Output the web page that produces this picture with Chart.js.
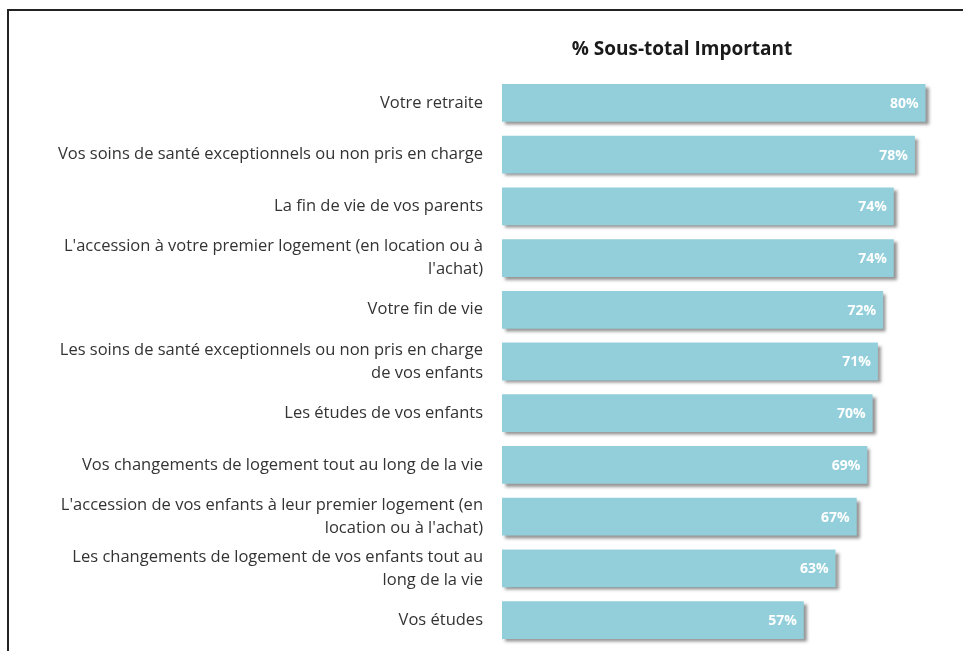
<!DOCTYPE html>
<html>
<head>
<meta charset="utf-8">
<script src="https://cdn.jsdelivr.net/npm/chart.js@4"></script>
<style>
  html, body { margin: 0; padding: 0; background: #fff; }
  #wrap { position: relative; width: 963px; height: 651px; overflow: hidden; }
  #frame { position: absolute; left: 7px; top: 9px; right: -10px; bottom: -10px;
           border-left: 2px solid #222; border-top: 2px solid #222; }
  canvas { position: absolute; left: 0; top: 0; }
</style>
</head>
<body>
<div id="wrap">
  <div id="frame"></div>
  <canvas id="chart" width="963" height="651"></canvas>
</div>
<script>
// ─── données ───────────────────────────────────────────
const categories = [
  "Votre retraite",
  "Vos soins de santé exceptionnels ou non pris en charge",
  "La fin de vie de vos parents",
  ["L'accession à votre premier logement (en location ou à", "l'achat)"],
  "Votre fin de vie",
  ["Les soins de santé exceptionnels ou non pris en charge", "de vos enfants"],
  "Les études de vos enfants",
  "Vos changements de logement tout au long de la vie",
  ["L'accession de vos enfants à leur premier logement (en", "location ou à l'achat)"],
  ["Les changements de logement de vos enfants tout au", "long de la vie"],
  "Vos études"
];
const values = [80, 78, 74, 74, 72, 71, 70, 69, 67, 63, 57];
const chartTitle = "% Sous-total Important";

const barColor = "#93cfda";
const labelFont = "'Open Sans', 'DejaVu Sans', sans-serif";

// ombre des barres
const shadowPlugin = {
  id: "shadow",
  beforeDatasetsDraw(chart) {
    const ctx = chart.ctx;
    ctx.save();
    ctx.shadowColor = "rgba(60,60,60,0.55)";
    ctx.shadowOffsetX = 3;
    ctx.shadowOffsetY = 3;
    ctx.shadowBlur = 3;
  },
  afterDatasetsDraw(chart) {
    chart.ctx.restore();
  }
};

// valeurs en blanc dans la barre + titre
const labelPlugin = {
  id: "valueLabels",
  afterDraw(chart) {
    const ctx = chart.ctx;
    const meta = chart.getDatasetMeta(0);
    ctx.save();
    ctx.fillStyle = "#ffffff";
    ctx.font = "bold 14px " + labelFont;
    ctx.textAlign = "right";
    ctx.textBaseline = "middle";
    meta.data.forEach((bar, i) => {
      ctx.fillText(values[i] + "%", bar.x - 7, bar.y + 1);
    });

    ctx.fillStyle = "#1a1a1a";
    ctx.font = "bold 19px " + labelFont;
    ctx.textAlign = "center";
    ctx.fillText(chartTitle, chart.chartArea.left + 180, 50);
    ctx.restore();
  }
};

new Chart(document.getElementById("chart"), {
  type: "bar",
  data: {
    labels: categories,
    datasets: [{
      data: values,
      backgroundColor: barColor,
      borderWidth: 0,
      barPercentage: 0.73,
      categoryPercentage: 1
    }]
  },
  options: {
    indexAxis: "y",
    responsive: false,
    animation: false,
    layout: { padding: { left: 0, right: 11, top: 77, bottom: 5 } },
    plugins: { legend: { display: false }, tooltip: { enabled: false } },
    scales: {
      x: { display: false, min: 0, max: 85 },
      y: {
        grid: { display: false },
        border: { display: false },
        ticks: {
          color: "#333333",
          padding: 11,
          font: { family: labelFont, size: 16.5, lineHeight: 1.4 }
        },
        afterFit(scale) {
          scale.width = 502;
          scale.paddingTop = 0;
          scale.paddingBottom = 0;
        }
      }
    }
  },
  plugins: [shadowPlugin, labelPlugin]
});
</script>
</body>
</html>
